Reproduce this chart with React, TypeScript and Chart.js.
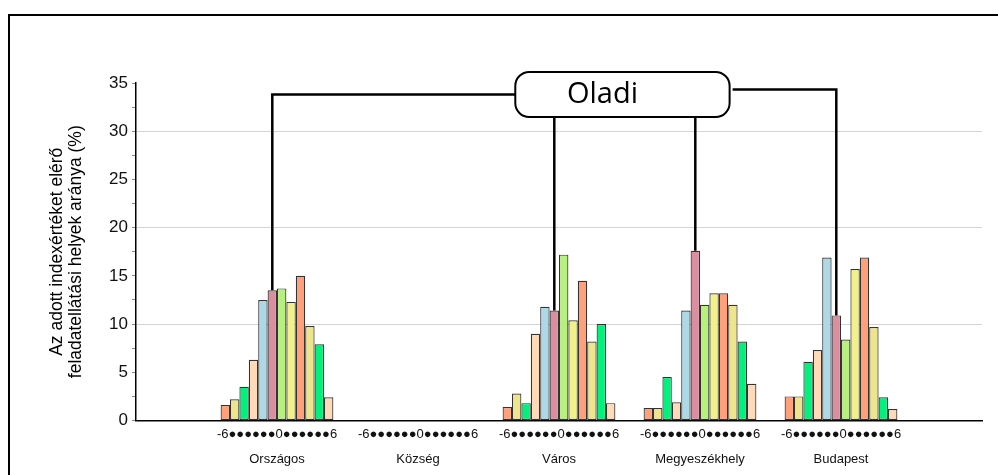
import React, { useEffect, useRef } from 'react';
import { Chart, registerables } from 'chart.js';

Chart.register(...registerables);

// ---- data ----
const GROUPS = ['Országos', 'Község', 'Város', 'Megyeszékhely', 'Budapest'];
const INDEX_TICK = '-6●●●●●●0●●●●●●6';
const Y_TITLE = ['Az adott indexértéket elérő', 'feladatellátási helyek aránya (%)'];
const CALLOUT_TEXT = 'Oladi';

const SERIES_COLORS = [
  '#FFA07A', '#EEE48C', '#00F27C', '#FFDAB9',
  '#ADD8E6', '#DB8EA0', '#B8F07E', '#F2F08A',
  '#FFA07A', '#EEE48C', '#00F27C', '#FFDAB9',
];

const ORSZAGOS = [1.6, 2.2, 3.5, 6.3, 12.5, 13.5, 13.7, 12.3, 15.0, 9.8, 7.9, 2.4];
const KOZSEG: (number | null)[] = [null, null, null, null, null, null, null, null, null, null, null, null];
const VAROS = [1.4, 2.8, 1.8, 9.0, 11.8, 11.4, 17.2, 10.4, 14.5, 8.2, 10.0, 1.8];
const MEGYESZEKHELY = [1.3, 1.3, 4.5, 1.9, 11.4, 17.6, 12.0, 13.2, 13.2, 12.0, 8.2, 3.8];
const BUDAPEST = [2.5, 2.5, 6.1, 7.3, 16.9, 10.9, 8.4, 15.7, 16.9, 9.7, 2.4, 1.2];

const GROUP_VALUES = [ORSZAGOS, KOZSEG, VAROS, MEGYESZEKHELY, BUDAPEST];

// callout (in scale units) and the bar series it points to
const CALLOUT_SERIES = 5;
const CALLOUT_BOX = { x0: 2.69, x1: 4.21, y0: 31.47, y1: 36.15, rightY: 34.33 };

const calloutPlugin = {
  id: 'callout',
  afterDatasetsDraw(chart: any) {
    const { ctx } = chart;
    const xs = chart.scales.x;
    const ys = chart.scales.y;
    const meta = chart.getDatasetMeta(CALLOUT_SERIES);
    const L = xs.getPixelForValue(CALLOUT_BOX.x0);
    const R = xs.getPixelForValue(CALLOUT_BOX.x1);
    const T = ys.getPixelForValue(CALLOUT_BOX.y1);
    const B = ys.getPixelForValue(CALLOUT_BOX.y0);
    const midY = (T + B) / 2;
    const rightY = ys.getPixelForValue(CALLOUT_BOX.rightY);

    ctx.save();
    ctx.strokeStyle = '#000';
    ctx.lineWidth = 2.5;
    ctx.lineJoin = 'miter';
    const bar = (gi: number) => meta.data[gi + 1];
    // Országos
    const b1 = bar(0);
    ctx.beginPath();
    ctx.moveTo(b1.x, b1.y);
    ctx.lineTo(b1.x, midY);
    ctx.lineTo(L, midY);
    ctx.stroke();
    // Város, Megyeszékhely
    [2, 3].forEach((gi) => {
      const b = bar(gi);
      ctx.beginPath();
      ctx.moveTo(b.x, b.y);
      ctx.lineTo(b.x, B);
      ctx.stroke();
    });
    // Budapest
    const b5 = bar(4);
    ctx.beginPath();
    ctx.moveTo(b5.x, b5.y);
    ctx.lineTo(b5.x, rightY);
    ctx.lineTo(R + 3, rightY);
    ctx.stroke();

    // box
    const r = 14;
    ctx.beginPath();
    ctx.moveTo(L + r, T);
    ctx.lineTo(R - r, T);
    ctx.arcTo(R, T, R, T + r, r);
    ctx.lineTo(R, B - r);
    ctx.arcTo(R, B, R - r, B, r);
    ctx.lineTo(L + r, B);
    ctx.arcTo(L, B, L, B - r, r);
    ctx.lineTo(L, T + r);
    ctx.arcTo(L, T, L + r, T, r);
    ctx.closePath();
    ctx.fillStyle = '#fff';
    ctx.fill();
    ctx.lineWidth = 2;
    ctx.stroke();

    ctx.fillStyle = '#000';
    ctx.font = '29px "Open Sans", "Noto Sans", sans-serif';
    ctx.textAlign = 'center';
    ctx.textBaseline = 'alphabetic';
    ctx.fillText(CALLOUT_TEXT, (L + R) / 2 - 20, B - 14);
    ctx.restore();
  },
};

export default function App() {
  const canvasRef = useRef<HTMLCanvasElement | null>(null);

  useEffect(() => {
    if (!canvasRef.current) return;
    const labels: (string | string[])[] = ['', ...GROUPS.map((g) => [INDEX_TICK, g]), ''];
    const datasets = SERIES_COLORS.map((color, k) => ({
      label: `s${k}`,
      data: [null, ...GROUP_VALUES.map((arr) => arr[k]), null],
      backgroundColor: color,
      borderColor: 'rgba(30,30,30,0.9)',
      borderWidth: 1.2,
      borderSkipped: false,
      categoryPercentage: 0.8,
      barPercentage: 1.0,
    }));

    const chart = new Chart(canvasRef.current, {
      type: 'bar',
      data: { labels, datasets: datasets as any },
      options: {
        animation: false,
        responsive: false,
        layout: { padding: { left: 0, right: 16, top: 83, bottom: 0 } },
        plugins: { legend: { display: false }, tooltip: { enabled: false }, title: { display: false } },
        scales: {
          x: {
            type: 'category',
            offset: false,
            grid: { display: false, drawTicks: false },
            border: { display: true, color: '#000', width: 1.5 },
            ticks: {
              autoSkip: false,
              maxRotation: 0,
              minRotation: 0,
              padding: 1,
              color: '#111',
              font: { family: '"Liberation Sans", Arial, sans-serif', size: 13, lineHeight: '25px' },
            },
            afterFit: (s: any) => { s.height = 54.5; },
          },
          y: {
            min: 0,
            max: 35,
            ticks: {
              stepSize: 2.5,
              autoSkip: false,
              padding: 4,
              color: '#111',
              font: { family: '"Liberation Sans", Arial, sans-serif', size: 17 },
              callback: (v: any) => (Number(v) % 5 === 0 ? String(v) : ''),
            },
            grid: {
              color: (c: any) => {
                const v = c.tick ? c.tick.value : 0;
                return v > 0 && v < 35 && v % 10 === 0 ? '#d4d4d4' : 'rgba(0,0,0,0)';
              },
              tickColor: '#888',
              tickLength: 4,
              lineWidth: 1,
            },
            border: { display: true, color: '#000', width: 1.5 },
            title: {
              display: true,
              text: Y_TITLE,
              color: '#000',
              font: { family: '"Liberation Sans", Arial, sans-serif', size: 17.5, lineHeight: '19px' },
              padding: { top: 48, bottom: 0 },
            },
            afterFit: (s: any) => { s.width = 136; },
          },
        },
      } as any,
      plugins: [calloutPlugin],
    });
    return () => chart.destroy();
  }, []);

  return (
    <div style={{ position: 'fixed', left: 0, top: 0, width: 998, height: 475, overflow: 'hidden', background: '#fff' }}>
      <div
        style={{
          position: 'absolute', left: 8, top: 14, width: 1000, height: 500,
          borderTop: '2px solid #000', borderLeft: '2px solid #000', boxSizing: 'border-box',
        }}
      />
      <canvas ref={canvasRef} width={998} height={475} style={{ position: 'absolute', left: 0, top: 0, width: 998, height: 475 }} />
    </div>
  );
}
